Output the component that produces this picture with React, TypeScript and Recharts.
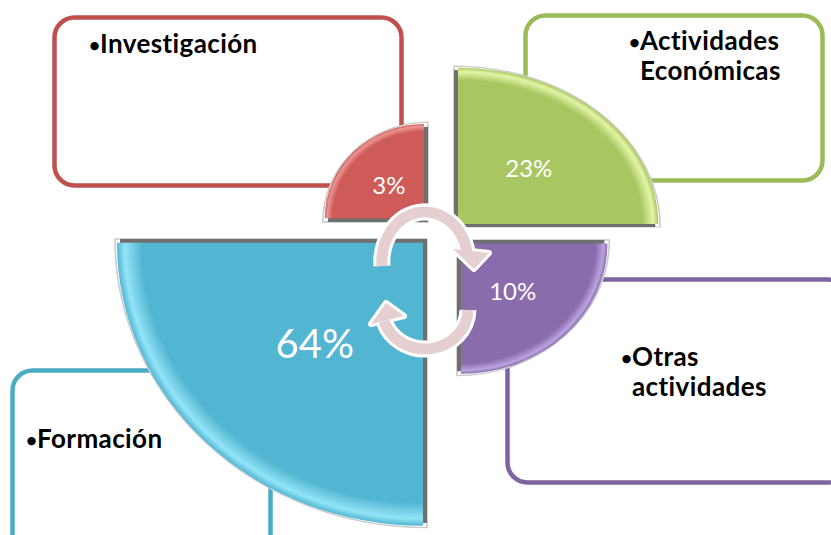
import { PieChart, Pie, Cell } from 'recharts';

// categories and their shares (%)
const categories = ['Investigación', 'Actividades Económicas', 'Otras actividades', 'Formación'];
const shares = [3, 23, 10, 64];
const shareLabels = ['3%', '23%', '10%', '64%'];

// one quadrant per category: angles, corner point, vertical squash, colours, label box
const quads = [
  { start: 90, end: 180, corner: [428, 222], dir: [-1, -1], squash: 0.95, fill: '#cf5b58', light: '#ec9592', line: '#c0504d',
    box: { x: 54.5, y: 17.5, w: 347, h: 168 }, text: { x: 89, y: 53 } },
  { start: 0, end: 90, corner: [454, 227], dir: [1, -1], squash: 0.78, fill: '#a9c662', light: '#e2f5a6', line: '#9bbb59',
    box: { x: 525.5, y: 15.5, w: 297, h: 165 }, text: { x: 629, y: 50 } },
  { start: 270, end: 360, corner: [457, 240], dir: [1, 1], squash: 0.89, fill: '#886cab', light: '#bba2e0', line: '#8064a2',
    box: { x: 507.5, y: 279.5, w: 340, h: 203 }, text: { x: 621, y: 366 } },
  { start: 180, end: 270, corner: [427, 239], dir: [-1, 1], squash: 0.925, fill: '#52b6d3', light: '#94e4f7', line: '#4bacc6',
    box: { x: 12.5, y: 370.5, w: 258, h: 210 }, text: { x: 26, y: 448 } },
];
// order of quads matches categories: Investigación, Actividades, Otras, Formación

// radius grows with the square root of the share
const radiusOf = (v: number) => 43 + 33 * Math.sqrt(v);
const SHIFT = 4;
const RAD = Math.PI / 180;
const W = 831;
const H = 535;
const FONT = "Lato, 'Open Sans', sans-serif";

function Boxes() {
  return (
    <svg width={W} height={H} style={{ position: 'absolute', left: 0, top: 0 }}>
      {quads.map((q, i) => (
        <rect key={i} x={q.box.x} y={q.box.y} width={q.box.w} height={q.box.h} rx={20}
          fill="#fff" stroke={q.line} strokeWidth={4.5} />
      ))}
      {quads.map((q, i) => {
        const lines = categories[i] === 'Investigación' || categories[i] === 'Formación'
          ? [categories[i]] : categories[i].split(' ');
        return (
          <g key={i} fontFamily={FONT} fontWeight={700} fill="#000">
            <text x={q.text.x} y={q.text.y - 1} fontSize={19}>•</text>
            {lines.map((l, j) => (
              <text key={j} x={q.text.x + 11} y={q.text.y + j * 30} fontSize={26} letterSpacing={0.4}>
                {l}
              </text>
            ))}
          </g>
        );
      })}
    </svg>
  );
}

function Arrows() {
  const pink = '#e6cfd0';
  return (
    <svg width={W} height={H} style={{ position: 'absolute', left: 0, top: 0, pointerEvents: 'none' }}>
      <g fill="none" stroke="#fff" strokeWidth={17}>
        <path d="M 382 266 A 43 50 0 0 1 467 252" />
        <path d="M 468 310 A 43 40 0 0 1 384 321" />
      </g>
      <g fill="#fff" stroke="#fff" strokeWidth={6} strokeLinejoin="round">
        <polygon points="453,249 489,253 474,269" />
        <polygon points="371,324 404,316 386,303" />
      </g>
      <g fill="none" stroke={pink} strokeWidth={11}>
        <path d="M 382 266 A 43 50 0 0 1 467 252" />
        <path d="M 468 310 A 43 40 0 0 1 384 321" />
      </g>
      <g fill={pink}>
        <polygon points="453,249 489,253 474,269" />
        <polygon points="371,324 404,316 386,303" />
      </g>
    </svg>
  );
}

export default function App() {
  const data = shares.map((v, i) => ({ name: categories[i], value: v }));

  const cellStyle = (i: number) => ({
    transform: `scale(1, ${quads[i].squash})`,
    transformOrigin: `${quads[i].corner[0]}px ${quads[i].corner[1]}px`,
  });

  const renderLabel = (i: number) => (props: any) => {
    const { cx, cy, midAngle, outerRadius } = props;
    const r = outerRadius * 0.5;
    const x = cx + r * Math.cos(-midAngle * RAD);
    const y = cy + r * Math.sin(-midAngle * RAD) * quads[i].squash;
    const big = shares[i] > 50;
    return (
      <text x={x} y={y} fill="#fff" textAnchor="middle" dominantBaseline="central"
        fontFamily={FONT} fontSize={big ? 40 : 24}>
        {shareLabels[i]}
      </text>
    );
  };

  return (
    <div style={{ position: 'absolute', left: 0, top: 0, width: W, height: H, background: '#fff', overflow: 'hidden' }}>
      <Boxes />
      <div style={{ position: 'absolute', left: 0, top: 0 }}>
        <PieChart width={W} height={H} margin={{ top: 0, right: 0, bottom: 0, left: 0 }}>
          <defs>
            {quads.map((q, i) => (
              <radialGradient key={i} id={`grad${i}`} cx={q.dir[0] < 0 ? 1 : 0} cy={q.dir[1] < 0 ? 1 : 0} r={1}>
                <stop offset="0" stopColor={q.fill} />
                <stop offset="0.92" stopColor={q.fill} />
                <stop offset="0.975" stopColor={q.light} />
                <stop offset="1" stopColor={q.fill} />
              </radialGradient>
            ))}
          </defs>
          {data.map((d, i) => {
            const q = quads[i];
            const r = radiusOf(d.value);
            return [
              <Pie key={`rim${i}`} data={[d]} dataKey="value" cx={q.corner[0]} cy={q.corner[1]}
                startAngle={q.start} endAngle={q.end} outerRadius={r + 5} innerRadius={0}
                stroke="#c8c8c8" strokeWidth={1.5} isAnimationActive={false}>
                <Cell fill="#fff" style={cellStyle(i)} />
              </Pie>,
              <Pie key={`edge${i}`} data={[d]} dataKey="value" cx={q.corner[0]} cy={q.corner[1]}
                startAngle={q.start} endAngle={q.end} outerRadius={r} innerRadius={0}
                stroke="none" isAnimationActive={false}>
                <Cell fill="#6f6f6f" style={cellStyle(i)} />
              </Pie>,
              <Pie key={`main${i}`} data={[d]} dataKey="value"
                cx={q.corner[0] + q.dir[0] * SHIFT} cy={q.corner[1] + q.dir[1] * SHIFT}
                startAngle={q.start} endAngle={q.end} outerRadius={r - 1} innerRadius={0}
                stroke="none" isAnimationActive={false} label={renderLabel(i)} labelLine={false}>
                <Cell fill={`url(#grad${i})`} style={cellStyle(i)} />
              </Pie>,
            ];
          })}
        </PieChart>
      </div>
      <Arrows />
    </div>
  );
}
